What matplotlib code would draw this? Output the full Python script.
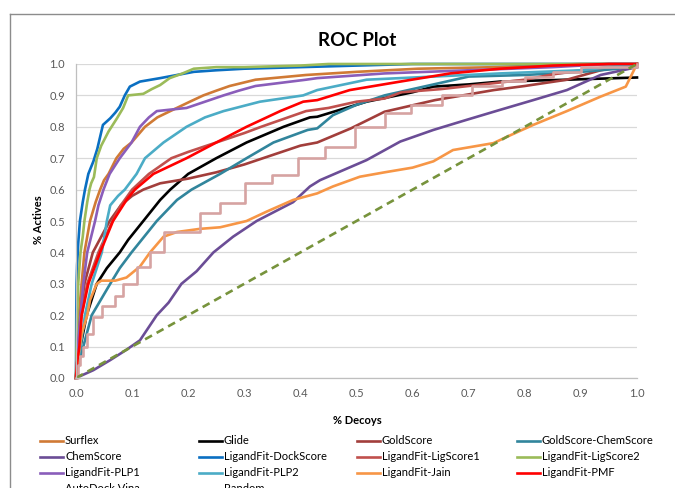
import matplotlib
matplotlib.use("Agg")
import matplotlib.pyplot as plt
from matplotlib.lines import Line2D

plt.rcParams["font.family"] = ["Lato", "DejaVu Sans"]

# ---- data: (% decoys, % actives) for each scoring function ----
surflex_x = [0, 0.002, 0.005, 0.01, 0.015, 0.025, 0.035, 0.043, 0.05, 0.058, 0.072, 0.085, 0.099, 0.123,
             0.145, 0.168, 0.203, 0.227, 0.25, 0.274, 0.32, 0.41, 0.5, 0.61, 0.75, 0.9, 1.0]
surflex_y = [0, 0.1, 0.2, 0.3, 0.4, 0.5, 0.56, 0.6, 0.63, 0.65, 0.7, 0.73, 0.75, 0.8,
             0.83, 0.85, 0.88, 0.9, 0.915, 0.93, 0.95, 0.965, 0.975, 0.985, 0.99, 1.0, 1.0]

glide_x = [0, 0.003, 0.008, 0.019, 0.037, 0.055, 0.078, 0.093, 0.12, 0.15, 0.168, 0.2, 0.25, 0.304,
           0.37, 0.417, 0.43, 0.518, 0.6, 0.637, 0.7, 0.756, 0.875, 1.0]
glide_y = [0, 0.05, 0.1, 0.2, 0.3, 0.35, 0.4, 0.44, 0.5, 0.567, 0.6, 0.65, 0.7, 0.75,
           0.8, 0.83, 0.832, 0.88, 0.91, 0.928, 0.935, 0.944, 0.95, 0.957]

goldscore_x = [0, 0.003, 0.008, 0.015, 0.03, 0.045, 0.06, 0.08, 0.1, 0.12, 0.15, 0.2, 0.25, 0.3,
               0.35, 0.4, 0.43, 0.49, 0.55, 0.64, 0.745, 0.8, 0.875, 0.935, 1.0]
goldscore_y = [0, 0.1, 0.2, 0.3, 0.4, 0.45, 0.5, 0.55, 0.58, 0.6, 0.62, 0.635, 0.655, 0.68,
               0.71, 0.74, 0.75, 0.795, 0.848, 0.885, 0.917, 0.93, 0.95, 0.98, 1.0]

gscs_x = [0, 0.005, 0.013, 0.028, 0.061, 0.078, 0.099, 0.144, 0.18, 0.206, 0.257, 0.304, 0.352,
          0.413, 0.43, 0.458, 0.5, 0.55, 0.6, 0.7, 0.8, 0.9, 1.0]
gscs_y = [0, 0.05, 0.1, 0.2, 0.3, 0.35, 0.4, 0.5, 0.567, 0.6, 0.65, 0.7, 0.75,
          0.79, 0.795, 0.837, 0.87, 0.9, 0.92, 0.96, 0.965, 0.975, 0.99]

chemscore_x = [0, 0.031, 0.061, 0.09, 0.114, 0.144, 0.165, 0.188, 0.215, 0.245, 0.28, 0.322, 0.387,
               0.417, 0.435, 0.518, 0.578, 0.637, 0.696, 0.756, 0.815, 0.875, 0.935, 1.0]
chemscore_y = [0, 0.025, 0.057, 0.09, 0.12, 0.2, 0.24, 0.3, 0.34, 0.4, 0.45, 0.5, 0.56,
               0.61, 0.63, 0.694, 0.753, 0.79, 0.822, 0.854, 0.885, 0.917, 0.965, 0.99]

dockscore_x = [0, 0.0005, 0.001, 0.002, 0.004, 0.007, 0.012, 0.016, 0.022, 0.031, 0.038, 0.048, 0.061,
               0.07, 0.078, 0.087, 0.096, 0.114, 0.15, 0.18, 0.21, 0.25, 0.3, 0.4, 0.5, 0.6, 1.0]
dockscore_y = [0, 0.2, 0.3, 0.36, 0.43, 0.5, 0.56, 0.6, 0.65, 0.69, 0.73, 0.806, 0.827,
               0.845, 0.864, 0.9, 0.928, 0.944, 0.955, 0.965, 0.975, 0.98, 0.985, 0.99, 0.995, 1.0, 1.0]

ligscore1_x = [0, 0.003, 0.01, 0.02, 0.04, 0.065, 0.08, 0.1, 0.13, 0.17, 0.2, 0.25, 0.3, 0.33,
               0.41, 0.45, 0.5, 0.55, 0.58, 0.65, 0.7, 0.8, 0.85, 0.9, 1.0]
ligscore1_y = [0, 0.1, 0.2, 0.3, 0.4, 0.5, 0.55, 0.6, 0.65, 0.7, 0.72, 0.75, 0.78, 0.8,
               0.85, 0.86, 0.88, 0.89, 0.91, 0.92, 0.93, 0.95, 0.967, 0.98, 1.0]

ligscore2_x = [0, 0.001, 0.002, 0.004, 0.008, 0.012, 0.015, 0.02, 0.024, 0.027, 0.032, 0.037, 0.045,
               0.058, 0.073, 0.084, 0.093, 0.12, 0.135, 0.15, 0.167, 0.19, 0.21, 0.25, 0.3, 0.4, 0.45, 1.0]
ligscore2_y = [0, 0.1, 0.2, 0.3, 0.4, 0.45, 0.5, 0.56, 0.6, 0.62, 0.64, 0.7, 0.74,
               0.785, 0.827, 0.86, 0.9, 0.905, 0.92, 0.933, 0.955, 0.97, 0.985, 0.99, 0.99, 0.995, 1.0, 1.0]

plp1_x = [0, 0.003, 0.008, 0.013, 0.02, 0.034, 0.04, 0.049, 0.06, 0.078, 0.099, 0.114, 0.13, 0.144,
          0.17, 0.197, 0.23, 0.263, 0.29, 0.32, 0.41, 0.43, 0.55, 0.7, 0.85, 0.95, 1.0]
plp1_y = [0, 0.1, 0.2, 0.3, 0.4, 0.5, 0.55, 0.6, 0.65, 0.7, 0.75, 0.8, 0.83, 0.85,
          0.855, 0.86, 0.88, 0.9, 0.915, 0.93, 0.95, 0.955, 0.97, 0.98, 0.99, 1.0, 1.0]

plp2_x = [0, 0.003, 0.008, 0.016, 0.028, 0.046, 0.055, 0.061, 0.075, 0.087, 0.108, 0.123, 0.156,
          0.197, 0.23, 0.263, 0.328, 0.405, 0.43, 0.518, 0.637, 0.756, 0.9, 1.0]
plp2_y = [0, 0.05, 0.1, 0.2, 0.3, 0.4, 0.5, 0.55, 0.58, 0.6, 0.65, 0.7, 0.75,
          0.8, 0.83, 0.85, 0.88, 0.9, 0.917, 0.95, 0.96, 0.97, 0.98, 1.0]

jain_x = [0, 0.005, 0.01, 0.02, 0.025, 0.037, 0.045, 0.07, 0.09, 0.114, 0.132, 0.156, 0.18, 0.221,
          0.257, 0.304, 0.34, 0.387, 0.43, 0.458, 0.506, 0.55, 0.6, 0.637, 0.672, 0.744, 0.768,
          0.815, 0.875, 0.935, 0.98, 1.0]
jain_y = [0, 0.08, 0.14, 0.2, 0.248, 0.3, 0.31, 0.31, 0.32, 0.355, 0.4, 0.45, 0.465, 0.475,
          0.48, 0.5, 0.53, 0.567, 0.588, 0.61, 0.641, 0.655, 0.67, 0.69, 0.726, 0.748, 0.768,
          0.806, 0.85, 0.896, 0.928, 1.0]

pmf_x = [0, 0.002, 0.006, 0.01, 0.022, 0.043, 0.066, 0.09, 0.105, 0.138, 0.197, 0.25, 0.304,
         0.364, 0.405, 0.43, 0.488, 0.578, 0.667, 0.756, 0.85, 0.95, 1.0]
pmf_y = [0, 0.05, 0.1, 0.2, 0.3, 0.4, 0.5, 0.567, 0.6, 0.65, 0.7, 0.75, 0.8,
         0.85, 0.88, 0.885, 0.917, 0.944, 0.97, 0.985, 0.995, 1.0, 1.0]

vina_x = [0, 0.003, 0.008, 0.013, 0.02, 0.031, 0.046, 0.07, 0.084, 0.108, 0.132, 0.156, 0.221, 0.257,
          0.301, 0.349, 0.396, 0.444, 0.497, 0.551, 0.598, 0.652, 0.705, 0.76, 0.8, 0.85, 0.9, 1.0]
vina_y = [0, 0.04, 0.07, 0.1, 0.14, 0.195, 0.23, 0.26, 0.3, 0.355, 0.4, 0.466, 0.524, 0.556,
          0.62, 0.646, 0.70, 0.737, 0.80, 0.843, 0.869, 0.9, 0.93, 0.945, 0.96, 0.975, 0.99, 1.0]

random_x = [0, 1.0]
random_y = [0, 1.0]

x_ticks = [0.0, 0.1, 0.2, 0.3, 0.4, 0.5, 0.6, 0.7, 0.8, 0.9, 1.0]
y_ticks = [0.0, 0.1, 0.2, 0.3, 0.4, 0.5, 0.6, 0.7, 0.8, 0.9, 1.0]

series = [
    ("Surflex", surflex_x, surflex_y, "#D07A35", "-", "default"),
    ("Glide", glide_x, glide_y, "#000000", "-", "default"),
    ("GoldScore", goldscore_x, goldscore_y, "#A23E3B", "-", "default"),
    ("GoldScore-ChemScore", gscs_x, gscs_y, "#31859C", "-", "default"),
    ("ChemScore", chemscore_x, chemscore_y, "#6B4D96", "-", "default"),
    ("LigandFit-DockScore", dockscore_x, dockscore_y, "#0A6FC2", "-", "default"),
    ("LigandFit-LigScore1", ligscore1_x, ligscore1_y, "#C0504D", "-", "default"),
    ("LigandFit-LigScore2", ligscore2_x, ligscore2_y, "#9BBB59", "-", "default"),
    ("LigandFit-PLP1", plp1_x, plp1_y, "#8A5DBA", "-", "default"),
    ("LigandFit-PLP2", plp2_x, plp2_y, "#4BACC6", "-", "default"),
    ("LigandFit-Jain", jain_x, jain_y, "#F79646", "-", "default"),
    ("LigandFit-PMF", pmf_x, pmf_y, "#FF0000", "-", "default"),
    ("AutoDock Vina", vina_x, vina_y, "#D6A3A2", "-", "steps-post"),
    ("Random", random_x, random_y, "#77933C", (0, (3, 2)), "default"),
]

fig = plt.figure(figsize=(6.75, 4.88), dpi=100)
W, H = 675.0, 488.0

# outer chart-area border
fig.add_artist(Line2D([10 / W, 1.0], [1 - 14 / H, 1 - 14 / H], color="#8C8C8C", lw=1.0))
fig.add_artist(Line2D([10 / W, 10 / W], [0.0, 1 - 14 / H], color="#8C8C8C", lw=1.0))

ax = fig.add_axes([76 / W, 1 - 378 / H, 561 / W, 314 / H])
for name, xs, ys, col, ls, ds in series:
    ax.plot(xs, ys, color=col, lw=1.9, linestyle=ls, drawstyle=ds, clip_on=False,
            solid_joinstyle="round")

ax.set_xlim(0, 1)
ax.set_ylim(0, 1)
ax.set_xticks(x_ticks)
ax.set_yticks(y_ticks)
ax.set_xticklabels([f"{v:.1f}" for v in x_ticks])
ax.set_yticklabels([f"{v:.1f}" for v in y_ticks])
ax.tick_params(length=0, labelsize=8, colors="#595959", pad=8)
ax.tick_params(axis="x", pad=7)
ax.grid(axis="y", color="#D9D9D9", lw=0.9)
ax.set_axisbelow(True)
for s in ("top", "right"):
    ax.spines[s].set_visible(False)
for s in ("left", "bottom"):
    ax.spines[s].set_color("#BFBFBF")
    ax.spines[s].set_linewidth(0.9)

fig.text(357 / W, 1 - 40 / H, "ROC Plot", ha="center", va="center", fontsize=13.5,
         fontweight="bold", color="#000000")
fig.text(38 / W, 1 - 220 / H, "% Actives", ha="center", va="center", rotation=90,
         fontsize=8, fontweight="bold")
fig.text(357 / W, 1 - 421 / H, "% Decoys", ha="center", va="center",
         fontsize=8, fontweight="bold")

# legend: four equal-width columns, filled row by row
col_x = [40, 199, 357, 517]
row_y = [441, 457, 473, 489]
for i, (name, xs, ys, col, ls, ds) in enumerate(series):
    r, c = divmod(i, 4)
    x0 = col_x[c]
    y0 = 1 - row_y[r] / H
    fig.add_artist(Line2D([x0 / W, (x0 + 23) / W], [y0, y0], color=col, lw=1.9))
    fig.text((x0 + 25) / W, y0, name, ha="left", va="center", fontsize=8, color="#000000")

fig.savefig("out.png", dpi=100)
